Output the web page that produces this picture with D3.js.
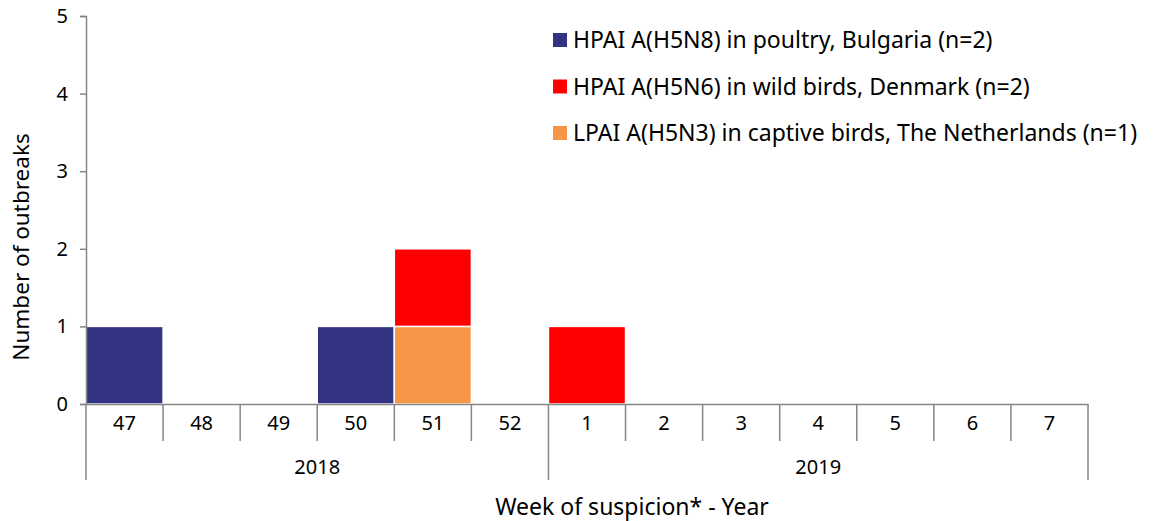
<!DOCTYPE html>
<html>
<head>
<meta charset="utf-8">
<script src="https://cdn.jsdelivr.net/npm/d3@7"></script>
<style>
  body { margin: 0; background: #fff; }
  text { font-family: "Noto Sans", "Open Sans", sans-serif; fill: #000; }
</style>
</head>
<body>
<svg class="chart" width="1153" height="521"></svg>
<script>
const weeks = ["47", "48", "49", "50", "51", "52", "1", "2", "3", "4", "5", "6", "7"]
const years = ["2018", "2018", "2018", "2018", "2018", "2018", "2019", "2019", "2019", "2019", "2019", "2019", "2019"]
const h5n8Bulgaria = [1, 0, 0, 1, 0, 0, 0, 0, 0, 0, 0, 0, 0]
const h5n3Netherlands = [0, 0, 0, 0, 1, 0, 0, 0, 0, 0, 0, 0, 0]
const h5n6Denmark = [0, 0, 0, 0, 1, 0, 1, 0, 0, 0, 0, 0, 0]
const yTicks = [0, 1, 2, 3, 4, 5]

const seriesInfo = [
    { key: "h5n8", label: "HPAI A(H5N8) in poultry, Bulgaria (n=2)", color: "#333383" },
    { key: "h5n6", label: "HPAI A(H5N6) in wild birds, Denmark (n=2)", color: "#ff0000" },
    { key: "h5n3", label: "LPAI A(H5N3) in captive birds, The Netherlands (n=1)", color: "#f79646" }
]

const data = weeks.map((w, i) => ({
    id: years[i] + "-" + w, week: w, year: years[i],
    h5n8: h5n8Bulgaria[i], h5n3: h5n3Netherlands[i], h5n6: h5n6Denmark[i]
}))

const margin = {top: 16, right: 65, bottom: 117, left: 86}
    , width = 1153 - margin.left - margin.right
    , height = 521 - margin.top - margin.bottom

const colorOf = {}
seriesInfo.forEach(s => colorOf[s.key] = s.color)

const series = d3.stack().keys(["h5n8", "h5n3", "h5n6"])(data)

const x = d3.scaleBand()
    .range([0, width])
    .padding(0)
    .domain(data.map(d => d.id))

const y = d3.scaleLinear()
    .range([height, 0])
    .domain([0, 5])

const svg = d3.select(".chart")

const graph = svg.append("g")
    .attr("transform", `translate(${margin.left},${margin.top})`)

// bars
graph.selectAll("g.layer")
    .data(series)
    .enter().append("g")
    .attr("class", "layer")
    .attr("fill", d => colorOf[d.key])
    .selectAll("rect")
    .data(d => d.filter(p => p[1] - p[0] > 0))
    .enter().append("rect")
    .attr("x", d => x(d.data.id))
    .attr("y", d => y(d[1]))
    .attr("width", x.bandwidth())
    .attr("height", d => y(d[0]) - y(d[1]))
    .attr("stroke", "#fff")
    .attr("stroke-width", 1.5)

// y axis
const yAxis = graph.append("g")
    .call(d3.axisLeft(y).tickValues(yTicks).tickFormat(d3.format("d")).tickSize(6).tickPadding(12))
yAxis.select(".domain").attr("stroke", "#868686").attr("stroke-width", 1.5)
yAxis.selectAll(".tick line").attr("stroke", "#868686").attr("stroke-width", 1.5)
yAxis.selectAll(".tick text")
    .style("font-size", "20px")
    .attr("fill", "#000")

// x axis: week labels
const xAxis = graph.append("g")
    .attr("transform", `translate(0,${height})`)
    .call(d3.axisBottom(x).tickSize(0).tickPadding(12).tickFormat(id => id.split("-")[1]))
xAxis.select(".domain").attr("stroke", "#868686").attr("stroke-width", 1.5)
xAxis.selectAll(".tick text")
    .style("font-size", "20px")
    .attr("fill", "#000")

// separators between weeks
const edges = data.map(d => x(d.id)).concat([width])
graph.append("g")
    .selectAll("line")
    .data(edges)
    .enter().append("line")
    .attr("x1", d => d).attr("x2", d => d)
    .attr("y1", height)
    .attr("y2", (d, i) => (i === 0 || i === edges.length - 1 || (i < data.length && data[i].year !== data[i - 1].year)) ? height + 76 : height + 37)
    .attr("stroke", "#868686")
    .attr("stroke-width", 1.5)

// year labels
const yearGroups = d3.groups(data, d => d.year)
graph.append("g")
    .selectAll("text")
    .data(yearGroups)
    .enter().append("text")
    .attr("x", d => (x(d[1][0].id) + x(d[1][d[1].length - 1].id) + x.bandwidth()) / 2)
    .attr("y", height + 70)
    .attr("text-anchor", "middle")
    .style("font-size", "20px")
    .text(d => d[0])

// axis titles
svg.append("text")
    .attr("transform", `translate(${margin.left + width / 2 + 45}, 515)`)
    .attr("text-anchor", "middle")
    .style("font-size", "23px")
    .text("Week of suspicion* - Year")

svg.append("text")
    .attr("transform", "translate(29, 247) rotate(-90)")
    .attr("text-anchor", "middle")
    .style("font-size", "22.5px")
    .text("Number of outbreaks")

// legend
const legend = svg.append("g")
    .attr("transform", "translate(553, 40)")

seriesInfo.forEach((s, i) => {
    legend.append("rect")
        .attr("x", 0)
        .attr("y", i * 46.5 - 7)
        .attr("width", 14)
        .attr("height", 14)
        .attr("fill", s.color)
    legend.append("text")
        .attr("x", 20)
        .attr("y", i * 46.5 + 8)
        .style("font-size", "23px")
        .text(s.label)
})
</script>
</body>
</html>
